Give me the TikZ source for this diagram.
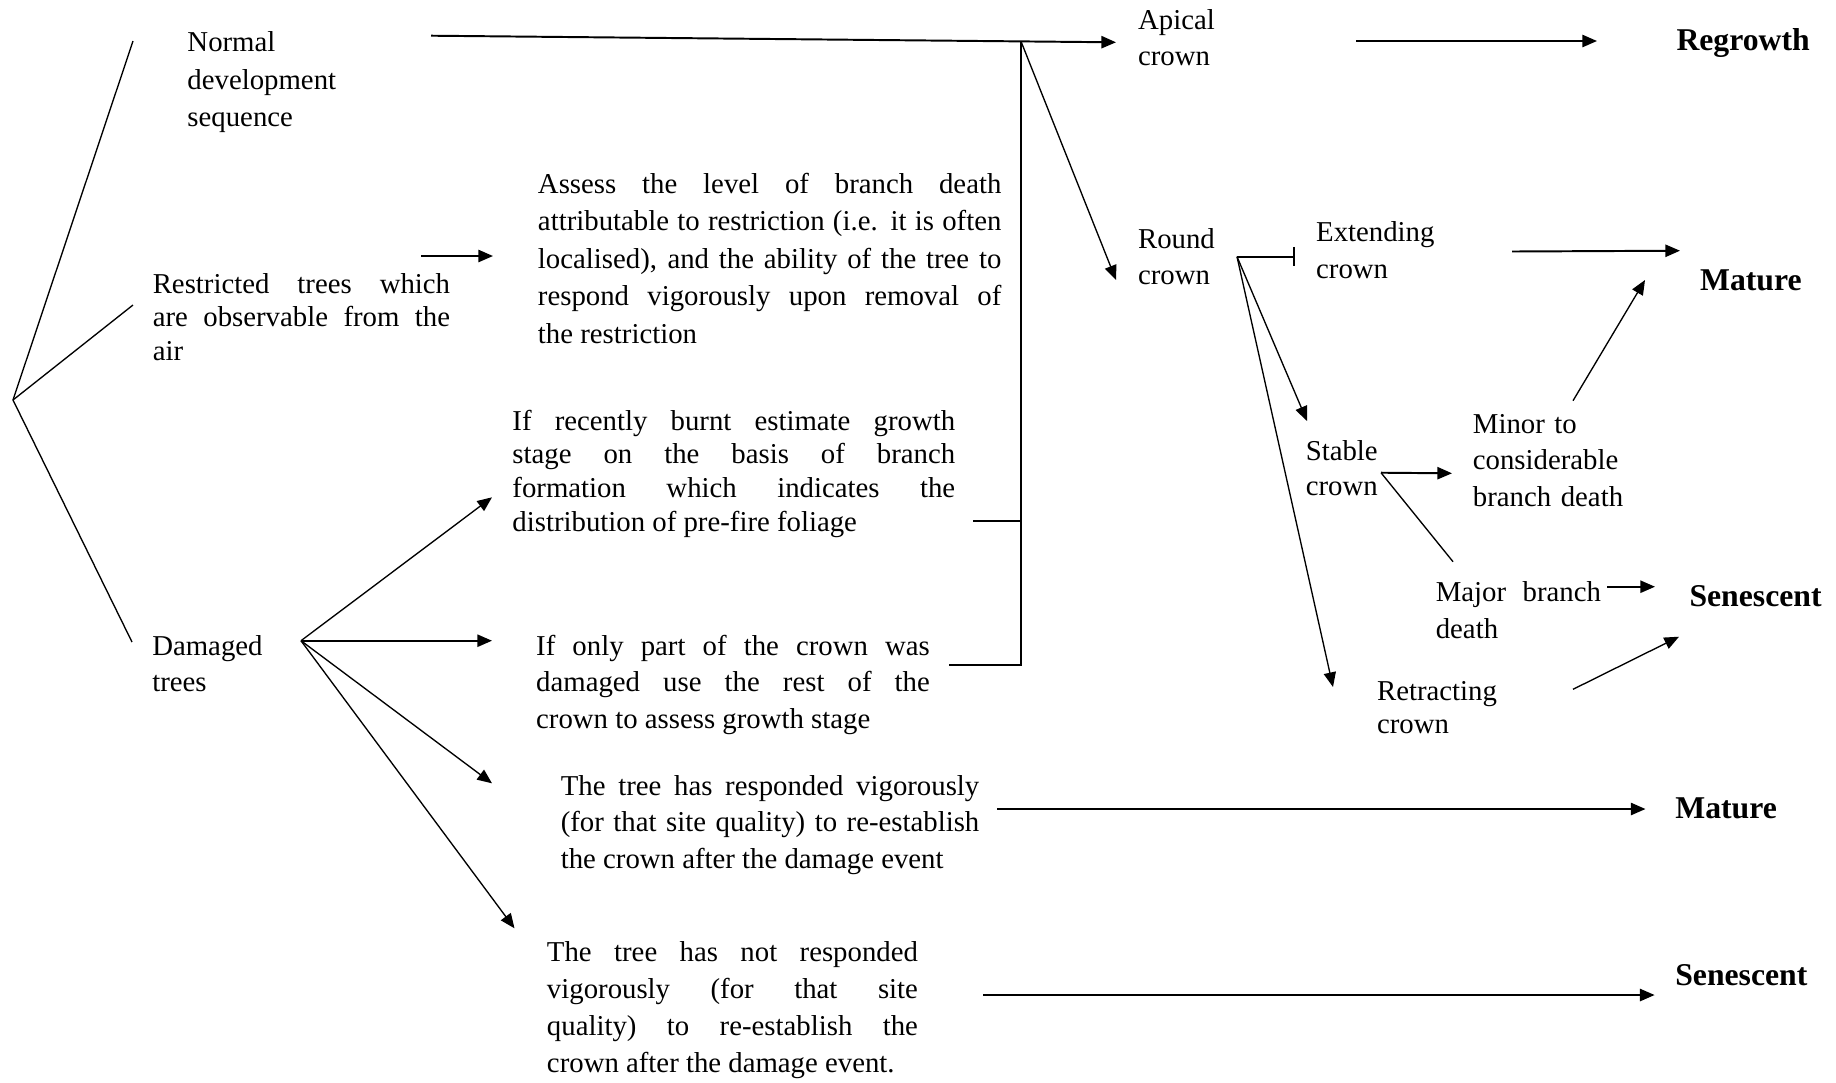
\documentclass[tikz,border=0pt]{standalone}
\usepackage{fontspec}
\setmainfont{Liberation Serif}
\usetikzlibrary{arrows.meta}
\newcommand{\lsk}[1]{\fontsize{11.8}{#1}\selectfont}

\begin{document}
\begin{tikzpicture} [x=0.41pt, y=-0.41pt,
	txt/.style = {anchor=base west, inner sep=0pt, align=left, text width=#1},
	txt/.default = 150pt,
	jus/.style = {txt=#1, align=justify},
	res/.style = {anchor=base west, inner sep=0pt, font=\fontsize{13}{15}\selectfont\bfseries},
	arr/.style = {line width=0.8pt, -{Triangle[length=6pt,width=5pt]}},
	thinarr/.style = {line width=0.55pt, -{Triangle[length=6pt,width=5pt]}},
	ln/.style = {line width=0.55pt}]
	\useasboundingbox (0,0) rectangle (1836,1082);

	\node[txt, font=\lsk{15.4pt}] (normal) at (187,51.7) {Normal\\development\\sequence};
	\node[jus=121.9pt, font=\lsk{13.7pt}] (restricted) at (152.3,293.3) {Restricted trees which\linebreak are observable from the\linebreak air};
	\node[txt, font=\lsk{15pt}] (damaged) at (151.8,655) {Damaged\\trees};

	\node[jus=190pt, font=\lsk{15.4pt}] (assess) at (537.5,193.3) {Assess the level of branch death\linebreak attributable to restriction (i.e. it is often\linebreak localised), and the ability of the tree to\linebreak respond vigorously upon removal of\linebreak the restriction};
	\node[jus=181.5pt, font=\lsk{13.9pt}] (burnt) at (512,430) {If recently burnt estimate growth\linebreak stage on the basis of branch\linebreak formation which indicates the\linebreak distribution of pre-fire foliage};
	\node[jus=161.4pt, font=\lsk{15pt}] (partial) at (535.7,655) {If only part of the crown was\linebreak damaged use the rest of the\linebreak crown to assess growth stage};
	\node[jus=171.6pt, font=\lsk{15pt}] (responded) at (560.3,795) {The tree has responded vigorously\linebreak (for that site quality) to re-establish\linebreak the crown after the damage event};
	\node[jus=152.1pt, font=\lsk{15.2pt}] (notresp) at (546.5,961.7) {The tree has not responded\linebreak vigorously (for that site\linebreak quality) to re-establish the\linebreak crown after the damage event.};

	\node[txt=80pt, font=\lsk{15pt}] (apical) at (1137.6,29.3) {Apical\\crown};
	\node[txt=80pt, font=\lsk{15pt}] (round) at (1137.6,248.3) {Round\\crown};
	\node[txt=80pt, font=\lsk{15pt}] (extending) at (1315.7,241.7) {Extending\\crown};
	\node[txt=80pt, font=\lsk{14.4pt}] (stable) at (1305.3,460) {Stable\\crown};
	\node[txt=90pt, font=\lsk{15pt}] (minor) at (1472.4,433.3) {Minor to\\considerable\\branch death};
	\node[jus=67.7pt, font=\lsk{15pt}] (major) at (1435.3,601.7) {Major branch\linebreak death};
	\node[txt=80pt, font=\lsk{13.7pt}] (retracting) at (1376.6,700) {Retracting\\crown};

	\node[res] (regrowth) at (1676,50) {Regrowth};
	\node[res] (mature1) at (1699.6,290) {Mature};
	\node[res] (senescent1) at (1689,606.7) {Senescent};
	\node[res] (mature2) at (1674.8,818.3) {Mature};
	\node[res] (senescent2) at (1674.8,985) {Senescent};

	\coordinate (fanroot) at (13,400);
	\coordinate (fanA) at (133,41);
	\coordinate (fanB) at (133,305);
	\coordinate (fanC) at (132,642);
	\draw[ln] (fanA) -- (fanroot) -- (fanC);
	\draw[ln] (fanroot) -- (fanB);

	\coordinate (normalout) at (431,35.7);
	\coordinate (apicalin) at (1116,42.3);
	\coordinate (join) at (1021,41.4);
	\coordinate (joinbot) at (1021,665);
	\coordinate (burntout) at (973,521);
	\coordinate (burntjoin) at (1021,521);
	\coordinate (partialout) at (949,665);
	\coordinate (roundin) at (1116,280);
	\draw[arr] (normalout) -- (apicalin);
	\draw[line width=0.8pt] (join) -- (joinbot) -- (partialout);
	\draw[line width=0.8pt] (burntout) -- (burntjoin);
	\draw[thinarr] (join) -- (roundin);

	\coordinate (restrout) at (421,256);
	\coordinate (assessin) at (493,256);
	\draw[arr] (restrout) -- (assessin);

	\coordinate (dmgroot) at (301,640.7);
	\coordinate (burntin) at (492,497.3);
	\coordinate (partialin) at (492,640.7);
	\coordinate (respin) at (492,783.3);
	\coordinate (notrespin) at (514.5,928.3);
	\draw[thinarr] (dmgroot) -- (burntin);
	\draw[arr] (dmgroot) -- (partialin);
	\draw[thinarr] (dmgroot) -- (respin);
	\draw[thinarr] (dmgroot) -- (notrespin);

	\coordinate (respout) at (997,809);
	\coordinate (mature2in) at (1645.5,809);
	\coordinate (notrespout) at (983,995);
	\coordinate (senescent2in) at (1654.6,995);
	\draw[arr] (respout) -- (mature2in);
	\draw[arr] (notrespout) -- (senescent2in);

	\coordinate (apicalout) at (1356,41);
	\coordinate (regrowthin) at (1597,41);
	\draw[arr] (apicalout) -- (regrowthin);

	\coordinate (roundout) at (1237,256.7);
	\coordinate (extendingin) at (1295,256.7);
	\coordinate (stablein) at (1307,421);
	\coordinate (retractingin) at (1333,687);
	\draw[line width=0.8pt, -{Bar[width=8pt]}] (roundout) -- (extendingin);
	\draw[thinarr] (roundout) -- (stablein);
	\draw[thinarr] (roundout) -- (retractingin);

	\coordinate (extendingout) at (1512,251.5);
	\coordinate (mature1in) at (1680,250.7);
	\coordinate (minorout) at (1573,400.7);
	\coordinate (mature1low) at (1645,280);
	\draw[arr] (extendingout) -- (mature1in);
	\draw[thinarr] (minorout) -- (mature1low);

	\coordinate (stableout) at (1381,472.7);
	\coordinate (minorin) at (1452,473.3);
	\coordinate (majorin) at (1453,561.7);
	\draw[arr] (stableout) -- (minorin);
	\draw[ln] (stableout) -- (majorin);

	\coordinate (majorout) at (1607,586.7);
	\coordinate (senescent1in) at (1655,586.7);
	\coordinate (retractingout) at (1573,689.3);
	\coordinate (senescent1low) at (1679,636.7);
	\draw[arr] (majorout) -- (senescent1in);
	\draw[thinarr] (retractingout) -- (senescent1low);
\end{tikzpicture}
\end{document}
